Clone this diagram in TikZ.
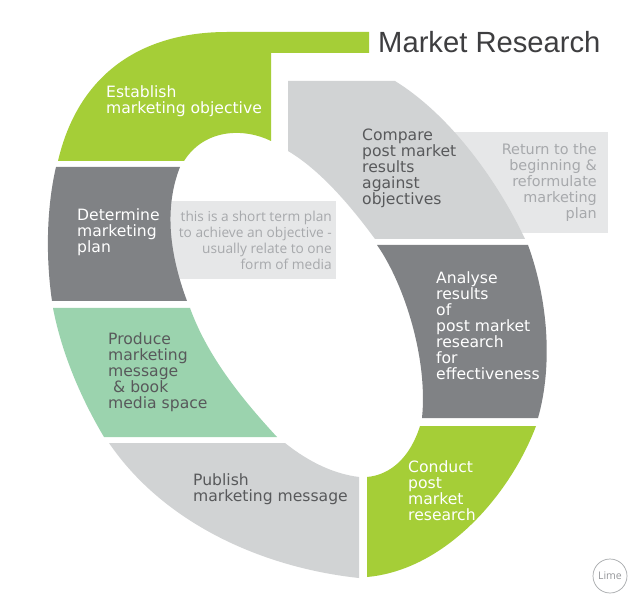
\documentclass[tikz,border=0pt]{standalone}
\usepackage{fontspec}
\setmainfont{DejaVu Sans}
\newfontfamily\titlefont{Liberation Sans}
\newfontfamily\notefont{Open Sans}
\definecolor{limegreen}{HTML}{A5CE37}
\definecolor{darkgrey}{HTML}{808285}
\definecolor{midgrey}{HTML}{D1D3D4}
\definecolor{palegrey}{HTML}{E6E7E8}
\definecolor{mintgreen}{HTML}{9BD3AE}
\definecolor{inkgrey}{HTML}{58595B}
\definecolor{notegrey}{HTML}{A7A9AC}
\tikzset{
  steptext/.style={anchor=north west, inner sep=0pt, align=left, font=\fontsize{15.6}{16}\selectfont},
  notetext/.style={anchor=north east, inner sep=0pt, align=right, text=notegrey, font=\notefont\fontsize{13.7}{16}\selectfont},
  sidetext/.style={anchor=north east, inner sep=0pt, align=right, text=notegrey, font=\fontsize{14.4}{16}\selectfont},
}
\begin{document}
\begin{tikzpicture}[x=1pt, y=-1pt]
  \useasboundingbox (0,0) rectangle (640,612);
  \fill[white] (0,0) rectangle (640,612);
  \fill[palegrey] (165,201) rectangle (336,279);
  \fill[palegrey] (440,132) rectangle (608,233);
  \fill[limegreen] (58,161) .. controls (78,75) and (140,32) .. (227,32)
    -- (369,32) -- (369,53) -- (271,53) -- (271,141)
    .. controls (245,128) and (205,128) .. (184,161) -- cycle;
  \fill[darkgrey] (56,167) .. controls (46,210) and (46,260) .. (52,301)
    -- (187,301) .. controls (168,250) and (165,205) .. (180,167) -- cycle;
  \fill[mintgreen] (53,308) .. controls (62,355) and (82,400) .. (104,437)
    -- (277,437) .. controls (240,397) and (207,355) .. (190,308) -- cycle;
  \fill[midgrey] (109,443) .. controls (165,525) and (265,568) .. (359,578)
    -- (359,477) .. controls (335,474) and (310,463) .. (285,443) -- cycle;
  \fill[limegreen] (367,477) -- (367,577) .. controls (445,570) and (510,495) .. (536,426)
    -- (420,426) .. controls (410,458) and (390,475) .. (367,477) -- cycle;
  \fill[darkgrey] (377,245) -- (528,245) .. controls (548,300) and (553,365) .. (538,418)
    -- (422,418) .. controls (428,360) and (405,285) .. (377,245) -- cycle;
  \fill[midgrey] (288,81) -- (395,81) .. controls (450,115) and (497,180) .. (525,239)
    -- (375,239) .. controls (350,205) and (320,170) .. (288,151) -- cycle;
  \node[anchor=base west, inner sep=0pt, text=inkgrey!70!black, font=\titlefont\fontsize{29.2}{32}\selectfont] (title) at (378,53) {Market Research};
  \node[steptext, text=white] (establish) at (106,85) {Establish\\marketing objective};
  \node[steptext, text=white] (determine) at (77,208) {Determine\\marketing\\plan};
  \node[steptext, text=inkgrey] (produce) at (108,332) {Produce\\marketing\\message\\\ \& book\\media space};
  \node[steptext, text=inkgrey] (publish) at (193,473) {Publish\\marketing message};
  \node[steptext, text=white] (conduct) at (408,460) {Conduct\\post\\market\\research};
  \node[steptext, text=white] (analyse) at (436,271) {Analyse\\results\\of\\post market\\research\\for\\effectiveness};
  \node[steptext, text=inkgrey] (compare) at (362,129) {Compare\\post market\\results\\against\\objectives};
  \node[notetext] (shortterm) at (332,211) {this is a short term plan\\to achieve an objective -\\usually relate to one\\form of media};
  \node[sidetext] (returnto) at (597,143) {Return to the\\beginning \&\\reformulate\\marketing\\plan};
  \draw[notegrey, line width=0.7pt] (610,576) circle (17);
  \node[inner sep=0pt, text=notegrey!90!black, font=\notefont\fontsize{10.5}{12}\selectfont] (lime) at (610,576) {Lime};
\end{tikzpicture}
\end{document}
